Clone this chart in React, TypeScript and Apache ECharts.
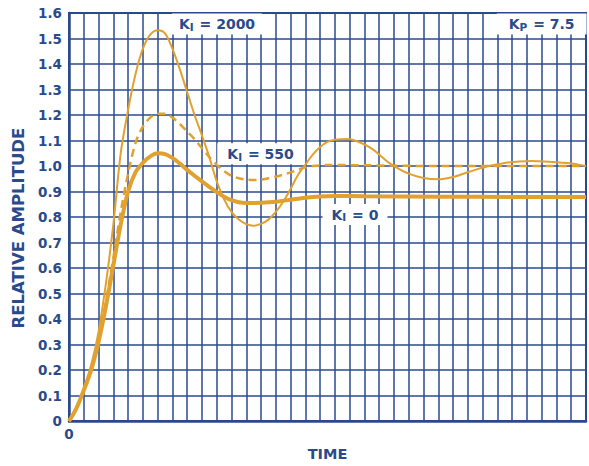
import React, { useEffect, useRef } from "react";
import * as echarts from "echarts";

// ---- data ----
const tKi2000 = [0, 0.5, 1, 1.5, 2, 2.5, 3, 3.5, 4, 4.5, 5, 5.5, 6, 6.5, 7, 7.5, 8, 8.5, 9, 9.5, 10, 10.5, 11, 11.5, 12, 12.5, 13, 13.5, 14, 14.5, 15, 15.5, 16, 16.5, 17, 17.5, 18, 18.8, 19.5, 20.5, 21.5, 22, 23, 24, 25, 26, 26.8, 27.5, 28.4, 29.5, 30.5, 31.3, 32.5, 34, 35];
const aKi2000 = [0, 0.05, 0.13, 0.22, 0.35, 0.54, 0.77, 1.05, 1.22, 1.36, 1.46, 1.515, 1.532, 1.52, 1.46, 1.38, 1.29, 1.2, 1.12, 1.035, 0.94, 0.87, 0.82, 0.79, 0.772, 0.766, 0.773, 0.79, 0.82, 0.86, 0.91, 0.965, 1.005, 1.045, 1.075, 1.095, 1.103, 1.106, 1.097, 1.068, 1.02, 1.0, 0.97, 0.953, 0.948, 0.957, 0.972, 0.985, 1.0, 1.012, 1.018, 1.02, 1.017, 1.01, 1.0];

const tKi550 = [0, 0.5, 1, 1.5, 2, 2.5, 3, 3.5, 4, 4.5, 5, 5.5, 6, 6.5, 7, 7.5, 8, 8.5, 9, 9.5, 10, 10.5, 11, 11.5, 12, 12.5, 13, 13.5, 14, 14.5, 15, 15.5, 16, 16.5, 17.5, 20, 25, 30, 35];
const aKi550 = [0, 0.05, 0.12, 0.2, 0.32, 0.47, 0.64, 0.82, 0.97, 1.09, 1.155, 1.19, 1.205, 1.205, 1.19, 1.165, 1.135, 1.105, 1.07, 1.035, 1.005, 0.98, 0.962, 0.952, 0.947, 0.945, 0.947, 0.952, 0.958, 0.966, 0.975, 0.985, 0.995, 1.0, 1.004, 1.003, 1.0, 1.0, 1.0];

const tKi0 = [0, 0.5, 1, 1.5, 2, 2.5, 3, 3.5, 4, 4.5, 5, 5.5, 6, 6.5, 7, 7.5, 8, 8.5, 9, 9.5, 10, 10.5, 11, 11.5, 12, 13, 14, 15, 16, 17, 18, 20, 25, 30, 35];
const aKi0 = [0, 0.05, 0.12, 0.2, 0.31, 0.45, 0.61, 0.77, 0.9, 0.975, 1.012, 1.038, 1.05, 1.047, 1.032, 1.01, 0.985, 0.962, 0.94, 0.918, 0.898, 0.88, 0.866, 0.858, 0.855, 0.856, 0.86, 0.868, 0.876, 0.881, 0.883, 0.882, 0.88, 0.879, 0.879];

// annotation labels (data coordinates of label centres)
const noteX = [10.02, 12.97, 19.36, 32];
const noteY = [1.557, 1.048, 0.81, 1.557];
const noteMain = ["K", "K", "K", "K"];
const noteSub = ["I", "I", "I", "P"];
const noteRest = [" = 2000", " = 550", " = 0", " = 7.5"];

const NAVY = "#2A4A8C";
const GOLD = "#E1A12F";
const FONT = "DejaVu Sans";

const pairs = (t: number[], a: number[]) => t.map((x, i) => [x, a[i]]);

export default function App() {
  const ref = useRef<HTMLDivElement>(null);
  useEffect(() => {
    const chart = echarts.init(ref.current!, null, { renderer: "svg" });
    const padH = [7, 10, 9, 12];
    chart.setOption({
      animation: false,
      backgroundColor: "#fff",
      grid: {
        left: 69,
        right: 2,
        top: 13,
        bottom: 37,
        show: true,
        borderColor: NAVY,
        borderWidth: 2,
      },
      xAxis: {
        type: "value",
        min: 0,
        max: 35,
        interval: 1,
        name: "TIME",
        nameLocation: "middle",
        nameGap: 19,
        nameTextStyle: { color: NAVY, fontFamily: FONT, fontWeight: "bold", fontSize: 14.5 },
        axisLine: { show: true, onZero: false, lineStyle: { color: NAVY, width: 2.5 } },
        axisTick: { show: false },
        axisLabel: {
          color: NAVY,
          fontFamily: FONT,
          fontWeight: "bold",
          fontSize: 13.5,
          margin: 6,
          formatter: (v: number) => (v === 0 ? "0" : ""),
        },
        splitLine: { show: true, lineStyle: { color: NAVY, width: 1.5 } },
      },
      yAxis: {
        type: "value",
        min: 0,
        max: 1.6,
        interval: 0.1,
        name: "RELATIVE AMPLITUDE",
        nameLocation: "middle",
        nameGap: 39,
        nameTextStyle: {
          color: NAVY,
          fontFamily: FONT,
          fontWeight: "bold",
          fontSize: 16.5,
          padding: [0, 22, 0, 0],
        },
        axisLine: { show: true, onZero: false, lineStyle: { color: NAVY, width: 2.5 } },
        axisTick: { show: false },
        axisLabel: {
          color: NAVY,
          fontFamily: FONT,
          fontWeight: "bold",
          fontSize: 13.5,
          margin: 7,
          formatter: (v: number) => (Math.abs(v) < 1e-9 ? "0" : v.toFixed(1)),
        },
        splitLine: { show: true, lineStyle: { color: NAVY, width: 1.5 } },
      },
      series: [
        {
          name: "KI = 0",
          type: "line",
          data: pairs(tKi0, aKi0),
          smooth: 0.3,
          showSymbol: false,
          lineStyle: { color: GOLD, width: 4 },
          z: 3,
        },
        {
          name: "KI = 550",
          type: "line",
          data: pairs(tKi550, aKi550),
          smooth: 0.3,
          showSymbol: false,
          lineStyle: { color: GOLD, width: 2.5, type: [8, 5] },
          z: 3,
        },
        {
          name: "KI = 2000",
          type: "line",
          data: pairs(tKi2000, aKi2000),
          smooth: 0.3,
          showSymbol: false,
          lineStyle: { color: GOLD, width: 2 },
          z: 3,
        },
      ],
    });

    // annotation boxes placed at data coordinates through the axes
    const graphics = noteX.map((x, i) => {
      const [px, py] = chart.convertToPixel({ gridIndex: 0 }, [x, noteY[i]]) as number[];
      return {
        type: "text",
        x: px,
        y: py,
        z: 100,
        silent: true,
        style: {
          text: `{k|${noteMain[i]}}{s|${noteSub[i]}}{k|${noteRest[i]}}`,
          align: "center",
          verticalAlign: "middle",
          fill: NAVY,
          backgroundColor: "#fff",
          padding: [3, padH[i], 2, padH[i]],
          rich: {
            k: { fill: NAVY, fontFamily: FONT, fontWeight: "bold", fontSize: 14, lineHeight: 16 },
            s: {
              fill: NAVY,
              fontFamily: FONT,
              fontWeight: "bold",
              fontSize: 10.5,
              lineHeight: 11,
              padding: [5, 1, 0, 0],
            },
          },
        },
      };
    });
    chart.setOption({ graphic: graphics });
    return () => chart.dispose();
  }, []);
  return (
    <div
      ref={ref}
      style={{ position: "absolute", left: 0, top: 0, width: 589, height: 466, background: "#fff" }}
    />
  );
}
